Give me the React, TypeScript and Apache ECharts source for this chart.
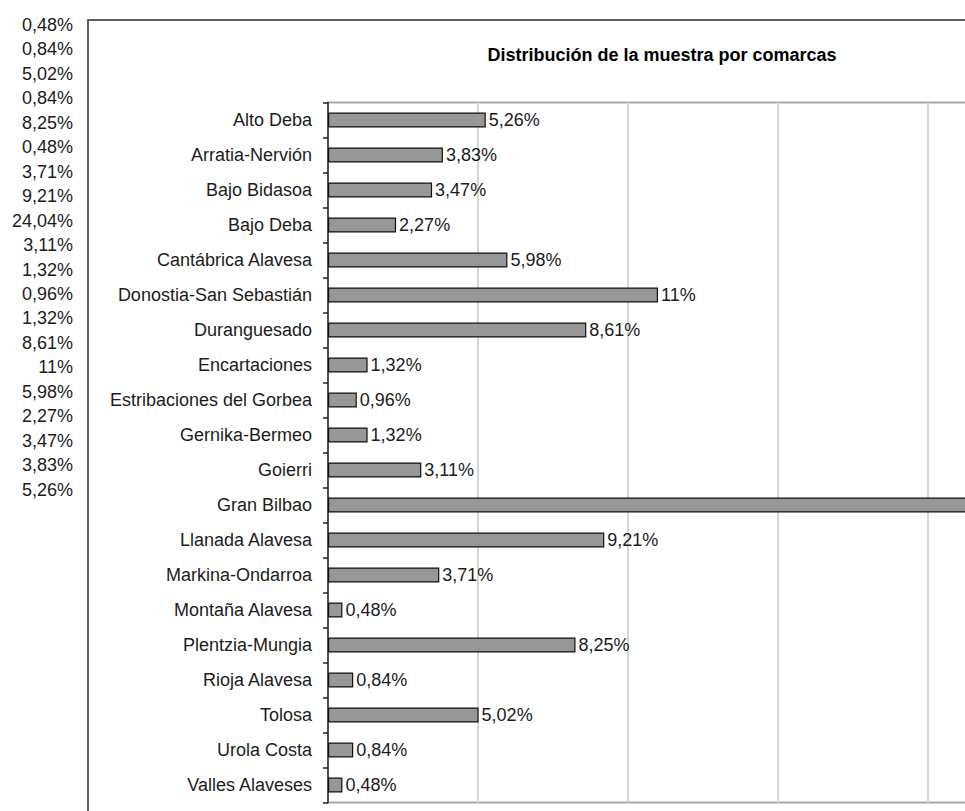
import React, { useEffect, useRef } from "react";
import * as echarts from "echarts";

const categories = [
  "Alto Deba",
  "Arratia-Nervión",
  "Bajo Bidasoa",
  "Bajo Deba",
  "Cantábrica Alavesa",
  "Donostia-San Sebastián",
  "Duranguesado",
  "Encartaciones",
  "Estribaciones del Gorbea",
  "Gernika-Bermeo",
  "Goierri",
  "Gran Bilbao",
  "Llanada Alavesa",
  "Markina-Ondarroa",
  "Montaña Alavesa",
  "Plentzia-Mungia",
  "Rioja Alavesa",
  "Tolosa",
  "Urola Costa",
  "Valles Alaveses",
];

const values = [
  5.26, 3.83, 3.47, 2.27, 5.98, 11, 8.61, 1.32, 0.96, 1.32, 3.11, 24.04, 9.21,
  3.71, 0.48, 8.25, 0.84, 5.02, 0.84, 0.48,
];

const titleText = "Distribución de la muestra por comarcas";

const fmt = (v: number) => String(v).replace(".", ",") + "%";

// stray column of labels on the left (the values in reverse order)
const leftLabels = [...values].reverse().map(fmt);

const FONT = "'Liberation Sans', Arial, sans-serif";
const TEXT = "#1c1c1c";

// axis geometry (the plot area runs past the cropped right edge of the picture)
const AXIS_MAX = 30;
const GRID_LEFT = 328;
const GRID_WIDTH = 900;
const VIEW_WIDTH = 965;
// values whose bar end lies beyond the visible area have their label cropped away
const visibleMax = ((VIEW_WIDTH - GRID_LEFT) / GRID_WIDTH) * AXIS_MAX;

export default function App() {
  const ref = useRef<HTMLDivElement>(null);

  useEffect(() => {
    if (!ref.current) return;
    const chart = echarts.init(ref.current, undefined, { renderer: "svg" });
    chart.setOption({
      animation: false,
      backgroundColor: "#ffffff",
      textStyle: { fontFamily: FONT },
      graphic: [
        {
          type: "rect",
          z: -10,
          shape: { x: 88, y: 20, width: 2000, height: 2000 },
          style: { fill: "none", stroke: "#606060", lineWidth: 2 },
        },
        {
          type: "text",
          x: 662,
          y: 55,
          style: {
            text: titleText,
            fontFamily: FONT,
            fontSize: 18,
            fontWeight: "bold",
            fill: "#000",
            align: "center",
            verticalAlign: "middle",
          },
        },
      ],
      grid: [
        {
          left: GRID_LEFT,
          top: 102.5,
          width: GRID_WIDTH,
          height: 700,
          show: true,
          borderColor: "#a8a8a8",
          borderWidth: 2,
          backgroundColor: "transparent",
        },
        {
          left: 75,
          top: 12.8,
          width: 1,
          height: 489,
        },
      ],
      xAxis: [
        {
          type: "value",
          gridIndex: 0,
          min: 0,
          max: AXIS_MAX,
          interval: 5,
          axisLine: { show: false },
          axisTick: { show: false },
          axisLabel: { show: false },
          splitLine: { show: true, lineStyle: { color: "#d6d6d6", width: 2 } },
        },
        {
          type: "value",
          gridIndex: 1,
          show: false,
        },
      ],
      yAxis: [
        {
          type: "category",
          gridIndex: 0,
          inverse: true,
          data: categories,
          axisLine: { show: true, lineStyle: { color: "#222", width: 1.5 } },
          axisTick: { show: true, length: 5, lineStyle: { color: "#222", width: 1.5 } },
          axisLabel: {
            fontSize: 18,
            color: TEXT,
            margin: 16,
            fontFamily: FONT,
          },
        },
        {
          type: "category",
          gridIndex: 1,
          inverse: true,
          data: leftLabels,
          axisLine: { show: false },
          axisTick: { show: false },
          axisLabel: {
            fontSize: 18,
            color: TEXT,
            margin: 2,
            fontFamily: FONT,
          },
        },
      ],
      series: [
        {
          type: "bar",
          xAxisIndex: 0,
          yAxisIndex: 0,
          data: values.map((v) =>
            v > visibleMax ? { value: v, label: { show: false } } : v
          ),
          barWidth: 15,
          itemStyle: { color: "#979797", borderColor: "#111", borderWidth: 1.2 },
          label: {
            show: true,
            position: "right",
            distance: 3,
            fontSize: 18,
            color: TEXT,
            fontFamily: FONT,
            formatter: (p: any) => fmt(p.value),
          },
        },
      ],
    });
    return () => chart.dispose();
  }, []);

  return (
    <div
      style={{
        position: "absolute",
        left: 0,
        top: 0,
        width: 965,
        height: 811,
        overflow: "hidden",
        background: "#fff",
      }}
    >
      <div ref={ref} style={{ width: 1250, height: 811 }} />
    </div>
  );
}
